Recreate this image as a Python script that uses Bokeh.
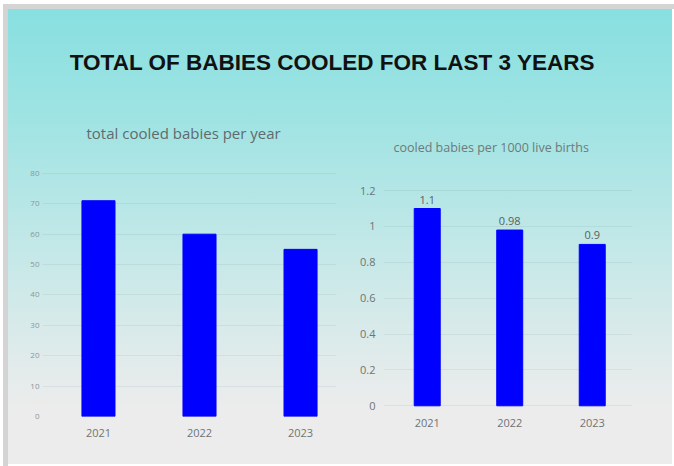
from bokeh.plotting import figure
from bokeh.layouts import column, row
from bokeh.models import Range1d, FixedTicker, Label
from bokeh.embed import file_html
from bokeh.resources import INLINE
from bokeh.core.properties import value

# ---- data ----
main_title = "TOTAL OF BABIES COOLED FOR LAST 3 YEARS"
left_title = "total cooled babies per year"
right_title = "cooled babies per 1000 live births"
years = ["2021", "2022", "2023"]
total_cooled = [71, 60, 55]
per_1000 = [1.1, 0.98, 0.9]
per_1000_labels = ["1.1", "0.98", "0.9"]
left_ticks = [0, 10, 20, 30, 40, 50, 60, 70, 80]
right_ticks = [0, 0.2, 0.4, 0.6, 0.8, 1, 1.2]
right_tick_labels = ["0", "0.2", "0.4", "0.6", "0.8", "1", "1.2"]

idx = list(range(len(years)))
FONT = "'Open Sans', 'Liberation Sans', sans-serif"
TITLE_FONT = "'Liberation Sans', Arial, sans-serif"
TEXT_GREY = "#6e7474"


def clear(p):
    p.background_fill_alpha = 0
    p.border_fill_alpha = 0
    p.outline_line_color = None


# ---- heading strip (titles), pixel-like coordinates ----
tp = figure(width=674, height=160, toolbar_location=None, output_backend="svg",
            x_range=Range1d(0, 674), y_range=Range1d(160, 0),
            x_axis_location=None, y_axis_location=None,
            min_border_left=0, min_border_right=0, min_border_top=0, min_border_bottom=0)
clear(tp)
tp.grid.visible = False
tp.add_layout(Label(x=332, y=62, text=main_title, text_align="center", text_baseline="middle",
                    text_font=TITLE_FONT, text_font_size="22.5px", text_font_style="bold",
                    text_color="#111111"))
tp.add_layout(Label(x=86, y=132, text=left_title, text_align="left", text_baseline="middle",
                    text_font=FONT, text_font_size="15px", text_color="#5f6b6b"))
tp.add_layout(Label(x=393, y=147, text=right_title, text_align="left", text_baseline="middle",
                    text_font=FONT, text_font_size="12.5px", text_color="#6d7a7a"))


def style_axes(p, ylab_size, ylab_color, ystand, xstand):
    p.xgrid.visible = False
    p.ygrid.grid_line_color = "#5a7a7a"
    p.ygrid.grid_line_alpha = 0.1
    for ax in (p.xaxis, p.yaxis):
        ax.axis_line_color = None
        ax.major_tick_line_color = None
        ax.minor_tick_line_color = None
        ax.major_tick_out = 0
        ax.major_tick_in = 0
        ax.major_label_text_font = FONT
    p.xaxis.major_label_text_font_size = "11px"
    p.xaxis.major_label_text_color = TEXT_GREY
    p.xaxis.major_label_standoff = xstand
    p.yaxis.major_label_text_font_size = ylab_size
    p.yaxis.major_label_text_color = ylab_color
    p.yaxis.major_label_standoff = ystand
    p.xaxis.ticker = FixedTicker(ticks=idx)
    p.xaxis.major_label_overrides = {i: y for i, y in zip(idx, years)}


# ---- left chart ----
left = figure(width=350, height=306, toolbar_location=None, output_backend="svg",
              x_range=Range1d(-0.554, 2.356), y_range=Range1d(0, 82.6),
              min_border_left=42, min_border_right=14, min_border_top=5, min_border_bottom=50)
clear(left)
left.vbar(x=idx, top=total_cooled, width=0.327, fill_color="#0000ff", line_color="#0000ff")
style_axes(left, "8px", "#8d9696", 3, 12)
left.yaxis.ticker = FixedTicker(ticks=left_ticks)

# ---- right chart ----
right = figure(width=324, height=306, toolbar_location=None, output_backend="svg",
               x_range=Range1d(-0.53, 2.488), y_range=Range1d(-0.0596, 1.34),
               min_border_left=33, min_border_right=42, min_border_top=5, min_border_bottom=50)
clear(right)
right.vbar(x=idx, top=per_1000, width=0.315, fill_color="#0000ff", line_color="#0000ff")
right.text(x=idx, y=per_1000, text=per_1000_labels, text_align="center",
           text_baseline="bottom", y_offset=-5, text_font=value(FONT),
           text_font_size="11px", text_color="#5a6060")
style_axes(right, "11px", TEXT_GREY, 8, 2)
right.yaxis.ticker = FixedTicker(ticks=right_ticks)
right.yaxis.major_label_overrides = {t: s for t, s in zip(right_ticks, right_tick_labels)}

layout = column(
    tp,
    row(left, right),
    width=674, height=466,
    styles={
        "background": "linear-gradient(to bottom, #86dfe0 0%, #9fe3e3 25%, #c6e8e8 55%, #e4ebeb 80%, #ececec 88%, #ececec 100%)",
        "box-shadow": "inset 3px 4px 0 #ffffff, inset 8px 9px 0 #d4d4d4, inset -2px -2px 0 #ffffff",
    },
)

open("out.html", "w").write(file_html(layout, INLINE))
